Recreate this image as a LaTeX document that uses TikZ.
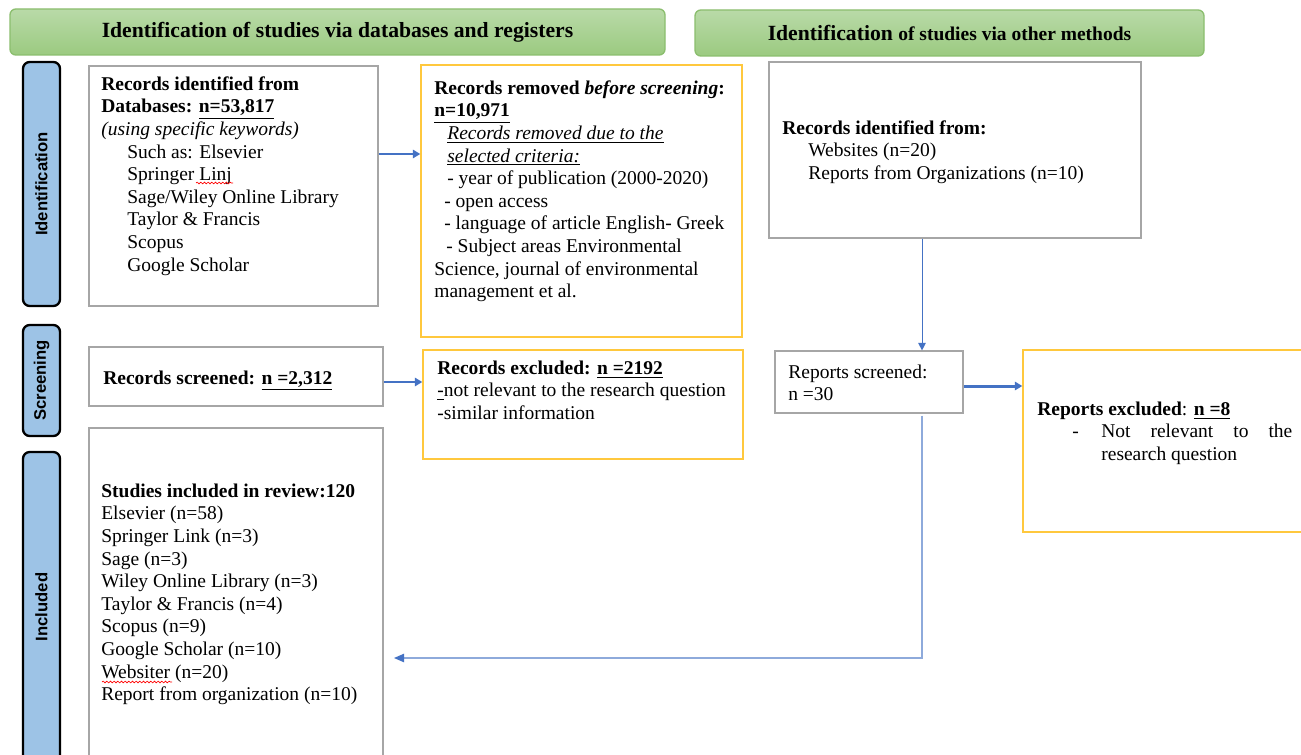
\documentclass[tikz,border=0pt]{standalone}
\usepackage{fontspec}
\setmainfont{Liberation Serif}
\newfontfamily\sidefont{Liberation Sans}
\usetikzlibrary{arrows.meta,decorations.pathmorphing,fit}
\definecolor{boxgray}{HTML}{A6A6A6}
\definecolor{boxyellow}{HTML}{FFC83D}
\definecolor{arrowblue}{HTML}{4472C4}
\definecolor{lineblue}{HTML}{8EAADB}
\definecolor{sidefill}{HTML}{9DC3E6}
\definecolor{hdtop}{HTML}{B9DAA8}
\definecolor{hdbot}{HTML}{9BCA80}
\definecolor{hdborder}{HTML}{8BBE6E}
\tikzset{
  graybox/.style={draw=boxgray, line width=0.7pt, inner sep=0pt, rectangle},
  yellowbox/.style={draw=boxyellow, line width=0.8pt, inner sep=0pt, rectangle},
  header/.style={draw=hdborder, line width=0.8pt, rounded corners=3.5pt, top color=hdtop, bottom color=hdbot, inner sep=0pt},
  sidelab/.style={draw=black, line width=1.4pt, rounded corners=4pt, fill=sidefill, inner sep=0pt},
  sidetext/.style={rotate=90, font=\sidefont\bfseries\fontsize{10}{12}\selectfont, inner sep=0pt},
  hdtext/.style={font=\bfseries\fontsize{13}{15}\selectfont, inner sep=0pt},
  txt/.style={font=\fontsize{11.7}{13.56}\selectfont, align=left, inner sep=0pt, anchor=north west},
  onetxt/.style={font=\fontsize{11.7}{13.56}\selectfont, inner sep=0pt, anchor=base west},
  arr/.style={draw=arrowblue, line width=1.2pt, -{Triangle[width=5pt,length=4.5pt]}},
  thinarr/.style={draw=arrowblue, line width=0.6pt, -{Triangle[width=4.5pt,length=4.5pt]}},
  retline/.style={draw=lineblue, line width=0.8pt, -{Triangle[width=5pt,length=6pt,color=arrowblue]}},
  squig/.style={draw=red, line width=0.4pt, decorate, decoration={snake, amplitude=0.5pt, segment length=2.2pt}}
}
\begin{document}
\begin{tikzpicture}[x=0.6pt,y=-0.6pt]
\useasboundingbox (0,0) rectangle (1301,755);
\clip (0,0) rectangle (1301,755);
\fill[white] (0,0) rectangle (1301,755);

% headers
\node[header, fit={(10,9) (665,55)}] (H1) {};
\node[hdtext] (H1t) at (H1.center) {Identification of studies via databases and registers};
\node[header, fit={(695,10) (1204,56)}] (H2) {};
\node[hdtext] (H2t) at (H2.center) {Identification {\fontsize{11.7}{15}\selectfont of studies via other methods}};

% side labels
\node[sidelab, fit={(23,62) (60,306)}] (S1) {};
\node[sidetext] (S1t) at (S1.center) {Identification};
\node[sidelab, fit={(23,325) (60,436)}] (S2) {};
\node[sidetext] (S2t) at (S2.center) {Screening};
\node[sidelab, fit={(23,452) (60,762)}] (S3) {};
\node[sidetext] (S3t) at (S3.center) {Included};

% boxes
\node[graybox, fit={(89,66) (378,306)}] (A) {};
\node[yellowbox, fit={(421,65) (742,337)}] (B) {};
\node[graybox, fit={(769,62) (1141,238)}] (C) {};
\node[graybox, fit={(89,347) (383,406)}] (D) {};
\node[yellowbox, fit={(423,350) (743,459)}] (E) {};
\node[graybox, fit={(775,351) (963,413)}] (F) {};
\node[yellowbox, fit={(1023,350) (1310,532)}] (G) {};
\node[graybox, fit={(89,428) (383,770)}] (H) {};

% texts
\node[txt] (At) at (101,74.2) {\strut\textbf{Records identified from}\\
\textbf{Databases: \underline{n=53,817}}\\
\textit{(using specific keywords)}\\
\hspace*{15.6pt}Such as: Elsevier\\
\hspace*{15.6pt}Springer Linj\\
\hspace*{15.6pt}Sage/Wiley Online Library\\
\hspace*{15.6pt}Taylor \& Francis\\
\hspace*{15.6pt}Scopus\\
\hspace*{15.6pt}Google Scholar};
\draw[squig] (196,183) -- (233,183);

\node[txt] (Bt) at (434,78.2) {\strut\textbf{Records removed \textit{before screening}:}\\
\textbf{\underline{n=10,971}}\\
\hspace*{7.8pt}\textit{\underline{Records removed due to the}}\\
\hspace*{7.8pt}\textit{\underline{selected criteria:}}\\
\hspace*{7.8pt}- year of publication (2000-2020)\\
\hspace*{6pt}- open access\\
\hspace*{6pt}- language of article English- Greek\\
\hspace*{7.2pt}- Subject areas Environmental\\
Science, journal of environmental\\
management et al.};

\node[txt] (Ct) at (782,118.2) {\strut\textbf{Records identified from:}\\
\hspace*{15.6pt}Websites (n=20)\\
\hspace*{15.6pt}Reports from Organizations (n=10)};

\node[onetxt] (Dt) at (103,384) {\textbf{Records screened: \underline{n =2,312}}};

\node[txt] (Et) at (437,358.2) {\strut\textbf{Records excluded: \underline{n =2192}}\\
\underline{-}not relevant to the research question\\
-similar information};

\node[txt] (Ft) at (788,362.2) {\strut Reports screened:\\
n =30};

\node[txt] (Gt) at (1037,399.2) {\strut\textbf{Reports excluded}: \textbf{\underline{n =8}}\\
\hspace*{21pt}-\hspace*{13.5pt}\makebox[114.6pt][s]{Not relevant to the}\\
\hspace*{38.4pt}research question};

\node[txt] (Ht) at (101,481.2) {\strut\textbf{Studies included in review:120}\\
Elsevier (n=58)\\
Springer Link (n=3)\\
Sage (n=3)\\
Wiley Online Library (n=3)\\
Taylor \& Francis (n=4)\\
Scopus (n=9)\\
Google Scholar (n=10)\\
Websiter (n=20)\\
Report from organization (n=10)};
\draw[squig] (102,682) -- (172,682);

% connectors
\coordinate (yAB) at (0,154);
\coordinate (yDE) at (0,382);
\coordinate (yFG) at (0,386);
\coordinate (xC) at (922,0);
\coordinate (retend) at (394,658);
\draw[arr] (A.east |- yAB) -- (B.west |- yAB);
\draw[arr] (D.east |- yDE) -- (E.west |- yDE);
\draw[arr, line width=1.8pt] (F.east |- yFG) -- (G.west |- yFG);
\draw[thinarr] (C.south -| xC) -- (F.north -| xC);
\draw[retline] ([yshift=-1.2pt]F.south -| xC) -- (xC |- retend) -- (retend);
\end{tikzpicture}
\end{document}
